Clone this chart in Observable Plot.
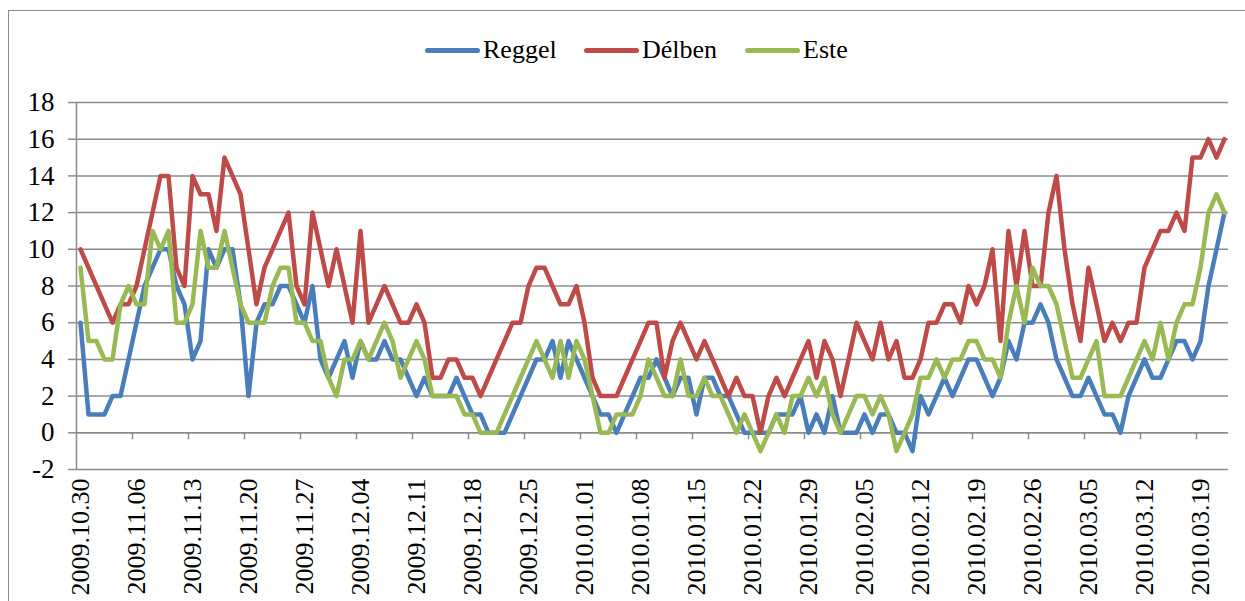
<!DOCTYPE html>
<html><head><meta charset="utf-8">
<script src="https://cdn.jsdelivr.net/npm/d3@7"></script>
<script src="https://cdn.jsdelivr.net/npm/@observablehq/plot@0.6"></script>
<style>
body{margin:0;background:#fff;}
#wrap{position:relative;width:1245px;height:601px;overflow:hidden;font-family:"Liberation Serif","Times New Roman",serif;}
#frame{position:absolute;left:8px;top:10px;width:1300px;height:700px;border:1.5px solid #8c8c8c;box-sizing:border-box;}
#legend{position:absolute;top:34px;left:0;width:1245px;height:32px;}
.item{position:absolute;top:0;display:flex;align-items:center;height:32px;font-size:26px;color:#000;white-space:nowrap;}
.sw{width:55px;height:5px;border-radius:3px;margin-right:3px;}
#chart{position:absolute;left:0;top:0;}
#chart svg{overflow:visible;background:transparent;}
</style></head>
<body><div id="wrap"><div id="frame"></div><div id="legend"></div><div id="chart"></div></div>
<script>
const startDate = "2009.10.30";
const tickLabels = ["2009.10.30","2009.11.06","2009.11.13","2009.11.20","2009.11.27","2009.12.04","2009.12.11","2009.12.18","2009.12.25","2010.01.01","2010.01.08","2010.01.15","2010.01.22","2010.01.29","2010.02.05","2010.02.12","2010.02.19","2010.02.26","2010.03.05","2010.03.12","2010.03.19"];
const yTicks = [-2,0,2,4,6,8,10,12,14,16,18];
const seriesNames = ["Reggel","Délben","Este"];
const seriesColors = ["#4a7ebb","#be4b48","#98b954"];
const reggel = [6,1,1,1,2,2,4,6,8,9,10,10,8,7,4,5,
10,9,10,10,7,2,6,7,7,8,8,7,6,8,4,3,
4,5,3,5,4,4,5,4,4,3,2,3,2,2,2,3,
2,1,1,0,0,0,1,2,3,4,4,5,3,5,4,3,
2,1,1,0,1,2,3,3,4,3,2,3,3,1,3,3,
2,2,1,0,0,0,0,1,1,1,2,0,1,0,2,0,
0,0,1,0,1,1,0,0,-1,2,1,2,3,2,3,4,
4,3,2,3,5,4,6,6,7,6,4,3,2,2,3,2,
1,1,0,2,3,4,3,3,4,5,5,4,5,8,10,12];
const delben = [10,9,8,7,6,7,7,8,10,12,14,14,9,8,14,13,
13,11,15,14,13,10,7,9,10,11,12,8,7,12,10,8,
10,8,6,11,6,7,8,7,6,6,7,6,3,3,4,4,
3,3,2,3,4,5,6,6,8,9,9,8,7,7,8,6,
3,2,2,2,3,4,5,6,6,3,5,6,5,4,5,4,
3,2,3,2,2,0,2,3,2,3,4,5,3,5,4,2,
4,6,5,4,6,4,5,3,3,4,6,6,7,7,6,8,
7,8,10,5,11,8,11,8,8,12,14,10,7,5,9,7,
5,6,5,6,6,9,10,11,11,12,11,15,15,16,15,16];
const este = [9,5,5,4,4,7,8,7,7,11,10,11,6,6,7,11,
9,9,11,9,7,6,6,6,8,9,9,6,6,5,5,3,
2,4,4,5,4,5,6,5,3,4,5,4,2,2,2,2,
1,1,0,0,0,1,2,3,4,5,4,3,5,3,5,4,
2,0,0,1,1,1,2,4,3,2,2,4,2,2,3,2,
2,1,0,1,0,-1,0,1,0,2,2,3,2,3,1,0,
1,2,2,1,2,1,-1,0,1,3,3,4,3,4,4,5,
5,4,4,3,6,8,6,9,8,8,7,5,3,3,4,5,
2,2,2,3,4,5,4,6,4,6,7,7,9,12,13,12];

const seriesValues = [reggel, delben, este];
const N = reggel.length;
const parse = d3.utcParse("%Y.%m.%d");
const start = parse(startDate);
const rows = [];
seriesNames.forEach((s, k) => seriesValues[k].forEach((v, i) => rows.push({s, i, v})));
const tickData = tickLabels.map(l => ({label: l, i: d3.utcDay.count(start, parse(l))}));
const boundaries = tickData.slice(1).map(d => d.i - 0.5);
const grey = "#8c8c8c";

// legend
const legend = document.getElementById("legend");
const legendLeft = [425, 584, 745];
seriesNames.forEach((s, k) => {
  const it = document.createElement("div");
  it.className = "item";
  it.style.left = legendLeft[k] + "px";
  it.innerHTML = `<span class="sw" style="background:${seriesColors[k]}"></span><span>${s}</span>`;
  legend.appendChild(it);
});

const chart = Plot.plot({
  width: 1245,
  height: 601,
  marginLeft: 76,
  marginRight: 17,
  marginTop: 102,
  marginBottom: 132,
  style: {fontFamily: "'Liberation Serif','Times New Roman',serif", background: "transparent", overflow: "visible"},
  x: {type: "linear", domain: [-0.5, N - 0.5], axis: null},
  y: {domain: [-2, 18], axis: null},
  color: {domain: seriesNames, range: seriesColors},
  marks: [
    Plot.gridY(yTicks, {stroke: grey, strokeOpacity: 1, strokeWidth: 1.5}),
    Plot.axisY(yTicks, {tickSize: 8, tickPadding: 14, fontSize: 27, stroke: grey, strokeWidth: 1.5, fill: "black", label: null, tickFormat: d => String(d)}),
    Plot.ruleX([-0.5], {stroke: grey, strokeWidth: 1.5}),
    Plot.ruleY([0], {stroke: grey, strokeWidth: 1.5}),
    Plot.ruleX(boundaries, {y1: 0, y2: 0, insetBottom: -7, stroke: grey, strokeWidth: 1.5}),
    Plot.line(rows, {x: "i", y: "v", z: "s", stroke: "s", strokeWidth: 4.5, strokeLinejoin: "round", strokeLinecap: "round"}),
    Plot.text(tickData, {x: "i", y: -2, text: "label", rotate: -90, textAnchor: "end", dy: 9, fontSize: 26, fill: "black"})
  ]
});
document.getElementById("chart").appendChild(chart);
</script>
</body></html>
